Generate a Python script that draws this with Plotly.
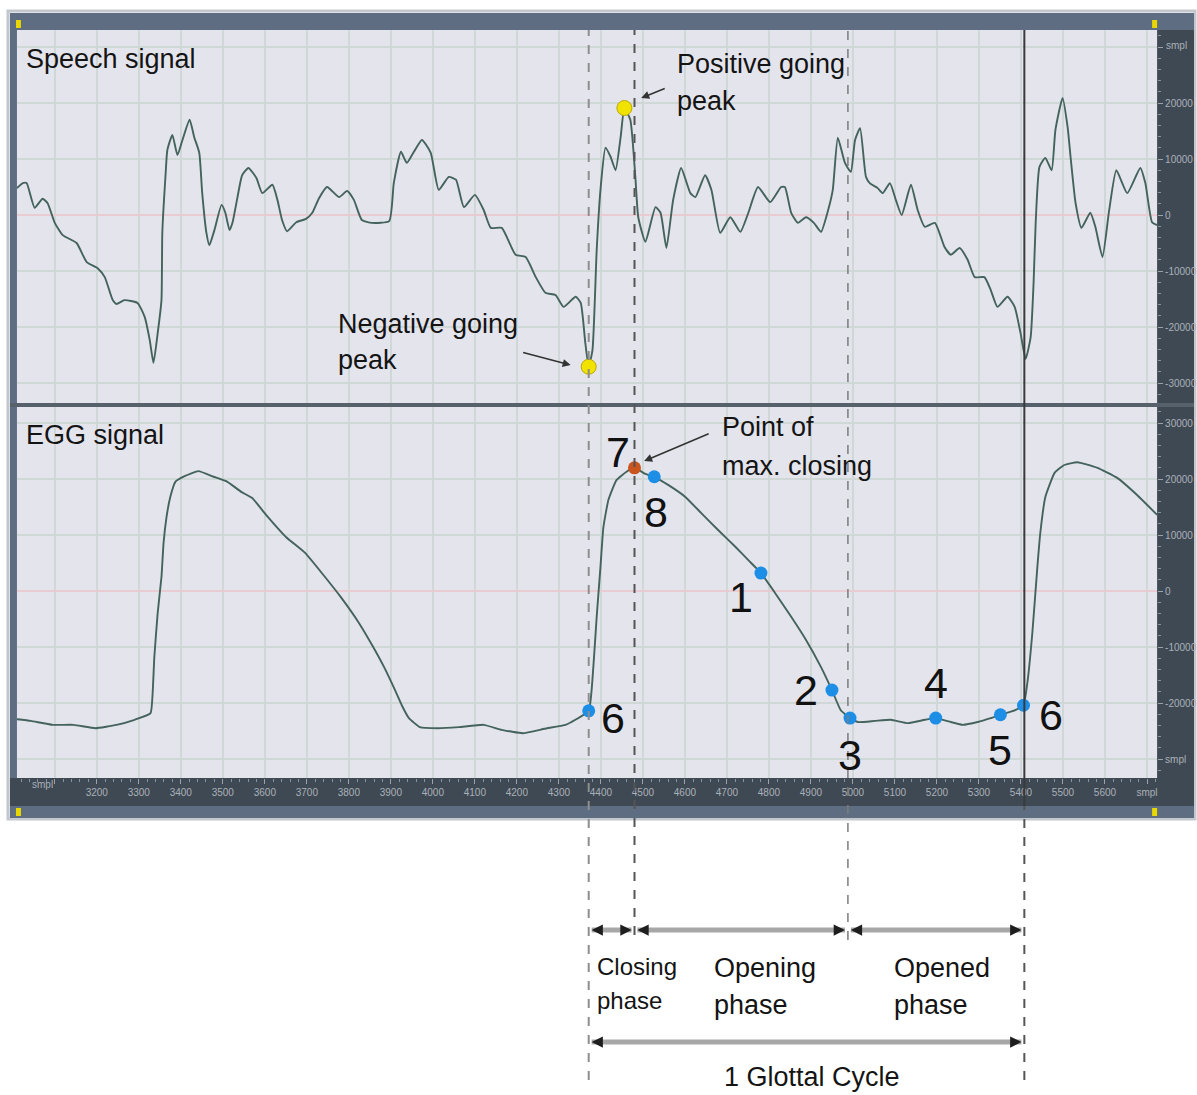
import plotly.graph_objects as go

W, H = 1197, 1095

# ---------------- data (sample index vs amplitude) ----------------
speech_x = [3010, 3024, 3033, 3052, 3071, 3083, 3100, 3119, 3152, 3176,
            3202, 3219, 3238, 3247, 3266, 3297, 3314, 3326, 3335, 3345,
            3354, 3356, 3364, 3368, 3380, 3392, 3404, 3421, 3432, 3444,
            3451, 3461, 3468, 3480, 3497, 3506, 3516, 3523, 3535, 3546,
            3561, 3580, 3594, 3618, 3630, 3641, 3653, 3675, 3698, 3713,
            3729, 3748, 3777, 3796, 3812, 3831, 3855, 3896, 3907, 3924,
            3938, 3955, 3974, 3995, 4014, 4038, 4055, 4074, 4100, 4121,
            4138, 4164, 4197, 4221, 4245, 4268, 4292, 4311, 4340, 4352,
            4363, 4371, 4380, 4390, 4399, 4411, 4423, 4435, 4447, 4456,
            4470, 4482, 4489, 4506, 4530, 4542, 4556, 4572, 4591, 4613,
            4625, 4648, 4663, 4684, 4708, 4732, 4751, 4774, 4803, 4829,
            4838, 4853, 4869, 4888, 4907, 4924, 4941, 4952, 4964, 4981,
            4995, 5005, 5017, 5031, 5040, 5059, 5071, 5088, 5102, 5116,
            5138, 5154, 5171, 5195, 5218, 5233, 5254, 5273, 5290, 5313,
            5328, 5344, 5368, 5385, 5399, 5411, 5423, 5430, 5435, 5444,
            5458, 5473, 5482, 5499, 5511, 5518, 5530, 5544, 5565, 5577,
            5594, 5610, 5627, 5653, 5684, 5696, 5712, 5724]
speech_y = [4800, 5700, 5700, 1300, 2900, 2100, -1400, -3600, -5000, -8400,
            -9500, -11100, -15200, -15900, -15200, -15700, -18200, -22300, -26400, -21100,
            -15200, -3200, 7500, 11600, 14300, 10700, 13400, 17000, 13900, 11100,
            3900, -3200, -5400, -2700, 1800, 400, -2700, -1400, 3200, 7100,
            8400, 6600, 3900, 5400, 2700, -900, -2900, -1300, -700, 400,
            3000, 5000, 3200, 4300, 2700, -900, -1400, -1100, 5700, 11300,
            9300, 11300, 13400, 11100, 4500, 6800, 6300, 1400, 3600, 900,
            -2300, -2300, -7100, -7500, -11100, -13900, -14300, -16400, -14600, -15700,
            -22900, -27100, -24100, -6300, 4500, 12000, 10400, 8000, 13900, 19100,
            17000, 6800, -400, -4800, 1400, 400, -5900, 2700, 8400, 3900,
            3200, 7100, 4500, -3200, -400, -3000, 400, 5000, 2300, 5000,
            5000, 400, -1400, -400, -1400, -3000, 900, 4500, 13800, 9300,
            7700, 13400, 15500, 6800, 5700, 4800, 3900, 5700, 2700, 0,
            5400, 900, -2100, -1400, -5700, -7100, -5900, -8000, -11100, -11100,
            -13400, -16400, -14600, -16400, -21100, -25700, -21800, -12100, -1400, 8600,
            10200, 8000, 15200, 20900, 15700, 10400, 2100, -2300, 400, -2100,
            -7500, 900, 8000, 3900, 8400, 5700, -1300, -1800]

egg_x = [3010, 3043, 3095, 3145, 3197, 3247, 3290, 3328, 3333, 3337,
         3345, 3354, 3359, 3366, 3375, 3387, 3409, 3442, 3478, 3511,
         3544, 3570, 3603, 3651, 3696, 3739, 3781, 3824, 3858, 3884,
         3910, 3926, 3943, 3969, 4012, 4062, 4121, 4164, 4214, 4266,
         4316, 4330, 4371, 4382, 4390, 4399, 4406, 4418, 4437, 4461,
         4480, 4506, 4527, 4561, 4601, 4639, 4679, 4720, 4751, 4781,
         4815, 4853, 4888, 4924, 4950, 4971, 4993, 5012, 5052, 5090,
         5131, 5171, 5197, 5233, 5261, 5297, 5328, 5351, 5385, 5406,
         5416, 5427, 5439, 5446, 5458, 5480, 5503, 5534, 5582, 5629,
         5677, 5724]
egg_y = [-22900, -23200, -23900, -23900, -24500, -23900, -23000, -21800, -18200, -11800,
         -3900, 2500, 8600, 13200, 16800, 19500, 20500, 21400, 20400, 19500,
         17700, 16600, 13600, 9600, 6800, 2900, -1100, -5700, -10000, -13600,
         -17700, -20400, -22700, -24300, -24500, -24300, -23900, -24800, -25400, -24600,
         -23900, -23400, -21400, -13600, -4600, 4300, 11400, 16300, 19800, 21300,
         22000, 20900, 20400, 18900, 16800, 13900, 10900, 7900, 5500, 3200,
         -400, -4600, -8700, -13600, -17700, -21300, -22700, -23400, -23200, -23000,
         -23600, -23000, -22700, -23400, -23900, -23400, -22700, -22100, -21300, -20400,
         -15900, -7500, 4300, 10400, 16800, 21100, 22500, 23000, 22000, 20200,
         17100, 13600]

peak_x = [4371, 4456]          # negative going peak, positive going peak
peak_y = [-27100, 19100]

pt_labels = ['6', '7', '8', '1', '2', '3', '4', '5', '6']
pt_x = [4371, 4480, 4527, 4781, 4950, 4993, 5197, 5351, 5406]
pt_y = [-21400, 22000, 20400, 3200, -17700, -22700, -22700, -22100, -20400]

phase_bounds = [4371, 4480, 4988, 5408]

x_tick_vals = [3100, 3200, 3300, 3400, 3500, 3600, 3700, 3800, 3900, 4000,
               4100, 4200, 4300, 4400, 4500, 4600, 4700, 4800, 4900, 5000,
               5100, 5200, 5300, 5400, 5500, 5600, 5700]
x_tick_text = ['', '3200', '3300', '3400', '3500', '3600', '3700', '3800', '3900', '4000',
               '4100', '4200', '4300', '4400', '4500', '4600', '4700', '4800', '4900', '5000',
               '5100', '5200', '5300', '5400', '5500', '5600', 'smpl']
y_tick_vals = [-30000, -20000, -10000, 0, 10000, 20000, 30000]
y1_tick_text = ['-30000', '-20000', '-10000', '0', '10000', '20000', '']
y2_tick_text = ['smpl', '-20000', '-10000', '0', '10000', '20000', '30000']

# ---------------- styling ----------------
FONT = "Liberation Sans Narrow, Arial Narrow, Liberation Sans, Arial, sans-serif"
TICKFONT = dict(family="Liberation Sans, Arial, sans-serif", size=10, color="#aab0b8")
TRACE = "#44635c"
GRID = "#cfd7d7"
SLATE = "#5e6d82"
DARK = "#3f4954"


def PX(x):
    return x / W


def PY(y):
    return 1 - y / H


fig = go.Figure()
fig.add_trace(go.Scatter(x=speech_x, y=speech_y, mode="lines", xaxis="x", yaxis="y",
                         line=dict(color=TRACE, width=1.9, shape="spline", smoothing=0.5),
                         hoverinfo="skip", showlegend=False))
fig.add_trace(go.Scatter(x=peak_x, y=peak_y, mode="markers", xaxis="x", yaxis="y",
                         marker=dict(size=15, color="#f2e200", line=dict(color="#b9a900", width=1)),
                         hoverinfo="skip", showlegend=False))
fig.add_trace(go.Scatter(x=egg_x, y=egg_y, mode="lines", xaxis="x2", yaxis="y2",
                         line=dict(color=TRACE, width=1.9, shape="spline", smoothing=0.4),
                         hoverinfo="skip", showlegend=False))
fig.add_trace(go.Scatter(x=pt_x, y=pt_y, mode="markers", xaxis="x2", yaxis="y2",
                         marker=dict(size=13,
                                     color=["#c9541d" if lab == "7" else "#1d8ee6" for lab in pt_labels],
                                     line=dict(width=0)),
                         hoverinfo="skip", showlegend=False))

xdom = [PX(17), PX(1160)]
xcommon = dict(domain=xdom, range=[3010, 5724], tickmode="array", tickvals=x_tick_vals,
               showgrid=True, gridcolor=GRID, gridwidth=2, zeroline=False, showline=False,
               fixedrange=True)
ycommon = dict(side="right", tickmode="array", tickvals=y_tick_vals, showgrid=True,
               gridcolor=GRID, gridwidth=2, zeroline=True, zerolinecolor="#e8ccd2",
               zerolinewidth=2, showline=False, ticks="outside", ticklen=5,
               tickcolor="#9aa1aa", tickfont=TICKFONT, fixedrange=True,
               minor=dict(ticks="outside", ticklen=3, tickcolor="#8a929c", tickmode="linear",
                          tick0=0, dtick=2000, showgrid=False))

fig.update_layout(
    width=W, height=H, margin=dict(l=0, r=0, t=0, b=0),
    paper_bgcolor="white", plot_bgcolor="#e4e4ed", showlegend=False,
    xaxis=dict(anchor="y", showticklabels=False, ticks="", **xcommon),
    xaxis2=dict(anchor="y2", ticktext=x_tick_text, ticks="outside", ticklen=5,
                tickcolor="#9aa1aa", tickfont=TICKFONT,
                minor=dict(ticks="outside", ticklen=3, tickcolor="#8a929c", tickmode="linear",
                           tick0=3000, dtick=20, showgrid=False),
                **xcommon),
    yaxis=dict(anchor="x", domain=[PY(403), PY(30)], range=[-33571, 33036],
               ticktext=y1_tick_text, **ycommon),
    yaxis2=dict(anchor="x2", domain=[PY(778), PY(407)], range=[-33393, 32857],
                ticktext=y2_tick_text, **ycommon),
)

shapes = []


def rect(x0, y0, x1, y1, color, layer="below"):
    shapes.append(dict(type="rect", xref="paper", yref="paper", x0=PX(x0), x1=PX(x1),
                       y0=PY(y1), y1=PY(y0), fillcolor=color, line=dict(width=0), layer=layer))


# window frame
shapes.append(dict(type="rect", xref="paper", yref="paper", x0=PX(8), x1=PX(1198), y0=PY(819),
                   y1=PY(11), line=dict(color="#c3c8ce", width=3), fillcolor="rgba(0,0,0,0)",
                   layer="below"))
rect(10, 13, 1197, 30, SLATE)
rect(10, 13, 17, 818, SLATE)
rect(1160, 30, 1197, 806, DARK)
rect(10, 778, 1197, 806, DARK)
rect(10, 806, 1197, 818, SLATE)
rect(10, 403, 1197, 407, "#56616c")
for (a, b) in [(16, 21), (1155, 1160)]:
    rect(a, 20, b, 28, "#e8d800")
    rect(a, 808, b, 816, "#e8d800")

# phase boundary lines
bound_styles = [("#8e8e8e", "dash", 2, 30, 1080),
                ("#555555", "dash", 2, 30, 935),
                ("#7c7c7c", "dash", 1.5, 30, 940),
                ("#3a3a3a", "solid", 2, 30, 806)]
for b, (col, dash, wd, ya, yb) in zip(phase_bounds, bound_styles):
    shapes.append(dict(type="line", xref="x2", yref="paper", x0=b, x1=b, y0=PY(yb), y1=PY(ya),
                       line=dict(color=col, width=wd, dash=dash), layer="above"))
shapes.append(dict(type="line", xref="x2", yref="paper", x0=phase_bounds[3], x1=phase_bounds[3],
                   y0=PY(1080), y1=PY(806), line=dict(color="#555555", width=2, dash="dash"),
                   layer="above"))

# dimension bars
inset = 7
dims = [(phase_bounds[0], phase_bounds[1], 930), (phase_bounds[1], phase_bounds[2], 930),
        (phase_bounds[2], phase_bounds[3], 930), (phase_bounds[0], phase_bounds[3], 1042)]
annotations = []
for a, b, yy in dims:
    shapes.append(dict(type="line", xref="x2", yref="paper", x0=a + inset, x1=b - inset,
                       y0=PY(yy), y1=PY(yy), line=dict(color="#a7a7a7", width=5), layer="above"))
    for xx, off in [(a + inset, 9), (b - inset, -9)]:
        annotations.append(dict(x=xx, y=PY(yy), xref="x2", yref="paper", ax=off, ay=0,
                                text="", showarrow=True, arrowhead=2, arrowsize=0.9,
                                arrowwidth=2.5, arrowcolor="#1e1e1e"))

fig.update_layout(shapes=shapes)


def txt(s, x, y, size=27, anchor="left", color="#141414"):
    annotations.append(dict(text=s, x=PX(x), y=PY(y), xref="paper", yref="paper",
                            xanchor=anchor, yanchor="middle", showarrow=False,
                            font=dict(family=FONT, size=size, color=color)))


txt("Speech signal", 24, 59)
txt("EGG signal", 24, 435)
txt("Positive going", 677, 64)
txt("peak", 677, 101)
txt("Negative going", 337, 324)
txt("peak", 337, 360)
txt("Point of", 722, 427)
txt("max. closing", 722, 466)
txt("Closing", 596, 966, size=24)
txt("phase", 596, 1000, size=24)
txt("Opening", 714, 968)
txt("phase", 714, 1005)
txt("Opened", 894, 968)
txt("phase", 894, 1005)
txt("1 Glottal Cycle", 814, 1077, anchor="center")

annotations.append(dict(text="smpl", x=PX(30), y=PY(792), xref="paper", yref="paper",
                        showarrow=False, font=TICKFONT))
annotations.append(dict(text="smpl", x=PX(1167), y=PY(38), xref="paper", yref="paper",
                        xanchor="left", showarrow=False, font=TICKFONT))

# pointer arrows
annotations.append(dict(x=4328, y=-26800, xref="x", yref="y", ax=-49, ay=-13, text="",
                        showarrow=True, arrowhead=2, arrowsize=1, arrowwidth=1.6,
                        arrowcolor="#333333"))
annotations.append(dict(x=4496, y=20900, xref="x", yref="y", ax=25, ay=-10, text="",
                        showarrow=True, arrowhead=2, arrowsize=1, arrowwidth=1.6,
                        arrowcolor="#333333"))
annotations.append(dict(x=4503, y=23200, xref="x2", yref="y2", ax=66, ay=-28, text="",
                        showarrow=True, arrowhead=2, arrowsize=1, arrowwidth=1.6,
                        arrowcolor="#333333"))

# point numbers
label_shift = [(24, -7), (-16, 16), (2, -35), (-20, -24), (-26, 0), (0, -37), (0, 35), (0, -35),
               (27, -10)]
for lab, xx, yy, (dx, dy) in zip(pt_labels, pt_x, pt_y, label_shift):
    annotations.append(dict(text=lab, x=xx, y=yy, xref="x2", yref="y2", xshift=dx, yshift=dy,
                            showarrow=False, font=dict(family=FONT, size=43, color="#111111")))

fig.update_layout(annotations=annotations)
fig.write_html("out.html")
